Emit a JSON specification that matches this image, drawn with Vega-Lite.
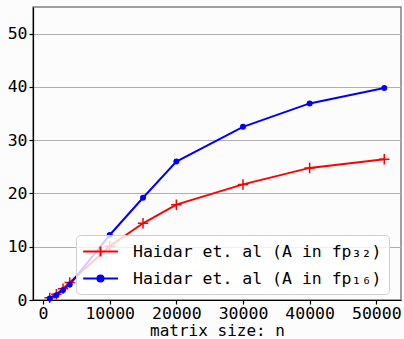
{
  "$schema": "https://vega.github.io/schema/vega-lite/v6.json",
  "width": 368,
  "height": 293,
  "autosize": {"type": "none"},
  "padding": {"left": 33, "top": 7, "right": 3, "bottom": 39},
  "background": "#fcfcfc",
  "config": {
    "view": {"stroke": "#808080", "strokeWidth": 1.5, "fill": "#fcfcfc"},
    "font": "DejaVu Sans Mono",
    "axis": {
      "labelFont": "DejaVu Sans Mono",
      "labelFontSize": 16.5,
      "labelColor": "#000",
      "titleFont": "DejaVu Sans Mono",
      "titleFontSize": 16,
      "titleFontWeight": "normal",
      "titleColor": "#000",
      "domainColor": "#000",
      "domainWidth": 1.2,
      "tickColor": "#000",
      "tickSize": 4,
      "tickWidth": 1.2,
      "labelPadding": 2
    }
  },
  "data": {
    "values": [
      {"series": "Haidar et. al (A in fp₃₂)", "n": 1000, "v": 0.4},
      {"series": "Haidar et. al (A in fp₃₂)", "n": 2000, "v": 1.1},
      {"series": "Haidar et. al (A in fp₃₂)", "n": 3000, "v": 2.1},
      {"series": "Haidar et. al (A in fp₃₂)", "n": 4000, "v": 3.3},
      {"series": "Haidar et. al (A in fp₃₂)", "n": 10000, "v": 10.1},
      {"series": "Haidar et. al (A in fp₃₂)", "n": 15000, "v": 14.4},
      {"series": "Haidar et. al (A in fp₃₂)", "n": 20000, "v": 17.9},
      {"series": "Haidar et. al (A in fp₃₂)", "n": 30000, "v": 21.7},
      {"series": "Haidar et. al (A in fp₃₂)", "n": 40000, "v": 24.8},
      {"series": "Haidar et. al (A in fp₃₂)", "n": 51200, "v": 26.4},
      {"series": "Haidar et. al (A in fp₁₆)", "n": 1000, "v": 0.3},
      {"series": "Haidar et. al (A in fp₁₆)", "n": 2000, "v": 0.9},
      {"series": "Haidar et. al (A in fp₁₆)", "n": 3000, "v": 1.9},
      {"series": "Haidar et. al (A in fp₁₆)", "n": 4000, "v": 2.9},
      {"series": "Haidar et. al (A in fp₁₆)", "n": 10000, "v": 12.2},
      {"series": "Haidar et. al (A in fp₁₆)", "n": 15000, "v": 19.2},
      {"series": "Haidar et. al (A in fp₁₆)", "n": 20000, "v": 26.0},
      {"series": "Haidar et. al (A in fp₁₆)", "n": 30000, "v": 32.5},
      {"series": "Haidar et. al (A in fp₁₆)", "n": 40000, "v": 36.9},
      {"series": "Haidar et. al (A in fp₁₆)", "n": 51200, "v": 39.8}
    ]
  },
  "encoding": {
    "x": {
      "field": "n", "type": "quantitative",
      "scale": {"domain": [-1510, 53710], "nice": false, "zero": false},
      "axis": {"values": [0, 10000, 20000, 30000, 40000, 50000], "grid": false, "format": "d", "title": "matrix size: n", "titlePadding": 1, "labelPadding": 1}
    },
    "y": {
      "field": "v", "type": "quantitative",
      "scale": {"domain": [0, 55], "nice": false},
      "axis": {"values": [0, 10, 20, 30, 40, 50], "grid": true, "gridColor": "#b0b0b0", "gridWidth": 1, "title": null}
    }
  },
  "layer": [
    {
      "mark": {"type": "line", "strokeWidth": 2},
      "encoding": {
        "color": {
          "field": "series", "type": "nominal",
          "scale": {"domain": ["Haidar et. al (A in fp₃₂)", "Haidar et. al (A in fp₁₆)"], "range": ["#ff0000", "#0000ff"]},
          "legend": {
            "title": null,
            "orient": "none",
            "legendX": 43,
            "legendY": 228,
            "labelFont": "DejaVu Sans Mono",
            "labelFontSize": 16.5,
            "labelColor": "#000",
            "labelLimit": 0,
            "labelOffset": 31,
            "symbolSize": 289,
            "symbolStrokeWidth": 2,
            "rowPadding": 8,
            "padding": 7,
            "cornerRadius": 4,
            "fillColor": "rgba(255,255,255,0.8)",
            "strokeColor": "#d0d0d0",
            "encode": {
              "symbols": {
                "update": {
                  "shape": {"signal": "datum.index === 0 ? 'M-1.1,0H3M0.94,-0.6V0.6' : 'M-1.1,0H3M1.3,0A0.36,0.36 0 1,1 0.58,0A0.36,0.36 0 1,1 1.3,0Z'"},
                  "fill": {"signal": "datum.index === 0 ? 'transparent' : '#0000ff'"},
                  "fillOpacity": {"value": 1},
                  "strokeWidth": {"value": 2}
                }
              }
            }
          }
        }
      }
    },
    {
      "transform": [{"filter": {"field": "series", "equal": "Haidar et. al (A in fp₃₂)"}}],
      "mark": {"type": "point", "shape": "M-1,0H1M0,-1V1", "size": 110, "filled": false, "strokeWidth": 1.5, "color": "#ff0000", "opacity": 1}
    },
    {
      "transform": [{"filter": {"field": "series", "equal": "Haidar et. al (A in fp₁₆)"}}],
      "mark": {"type": "point", "shape": "circle", "size": 36, "filled": true, "color": "#0000ff", "opacity": 1}
    }
  ]
}
